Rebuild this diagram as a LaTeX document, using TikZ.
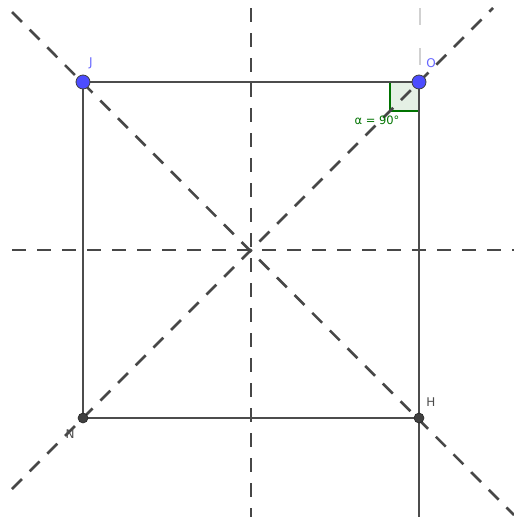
\documentclass[tikz,border=0pt]{standalone}
\usepackage{fontspec}
\setmainfont{DejaVu Sans}
\begin{document}
\begin{tikzpicture}[x=1pt,y=-1pt,
  axisline/.style={draw=black!72,line width=2.6pt,dash pattern=on 14pt off 11pt},
  side/.style={draw=black!70,line width=2.4pt},
  bluept/.style={circle,fill=blue!70!white,draw=black!75,line width=0.8pt,inner sep=0pt,minimum size=14pt},
  greypt/.style={circle,fill=black!75,draw=black!85,line width=0.6pt,inner sep=0pt,minimum size=10pt},
  ptlabel/.style={font=\fontsize{12}{13}\selectfont,inner sep=0pt},
]
\useasboundingbox (0,0) rectangle (514,517);
% named coordinates
\coordinate (J) at (83,82);
\coordinate (O) at (419,82);
\coordinate (N) at (83,418);
\coordinate (H) at (419,418);
\coordinate (vT) at (251,8);
\coordinate (vB) at (251,517);
\coordinate (hL) at (12,250);
\coordinate (hR) at (514,250);
\coordinate (d1a) at (12,12);
\coordinate (d1b) at (514,515);
\coordinate (d2a) at (12,489);
\coordinate (d2b) at (493,8);
\coordinate (HB) at (419,517);
\coordinate (fT) at (420,8);
\coordinate (fM) at (420,75);
% angle marker
\filldraw[fill=green!40!black!10,draw=green!45!black,line width=1.6pt] (390,82) rectangle (419,111);
% dashed lines
\draw[axisline] (vT) -- (vB);
\draw[axisline] (hL) -- (hR);
\draw[axisline] (d1a) -- (d1b);
\draw[axisline] (d2a) -- (d2b);
% faint line above O
\draw[draw=black!18,line width=1.6pt,dash pattern=on 17pt off 23pt] (fT) -- (fM);
% square
\draw[side] (J) -- (O) -- (H) -- (N) -- cycle;
\draw[side] (H) -- (HB);
% points
\node[bluept] (pJ) at (J) {};
\node[bluept] (pO) at (O) {};
\node[greypt] (pN) at (N) {};
\node[greypt] (pH) at (H) {};
% labels
\node[ptlabel,text=blue!60!white] (lJ) at (91,63) {J};
\node[ptlabel,text=blue!60!white] (lO) at (431,63) {O};
\node[ptlabel,text=black!70] (lH) at (431,402) {H};
\node[ptlabel,text=black!70] (lN) at (70,434) {N};
\node[font=\fontsize{11.5}{13}\selectfont,text=green!45!black,inner sep=0pt] (alpha) at (377,120) {α = 90°};
\end{tikzpicture}
\end{document}
